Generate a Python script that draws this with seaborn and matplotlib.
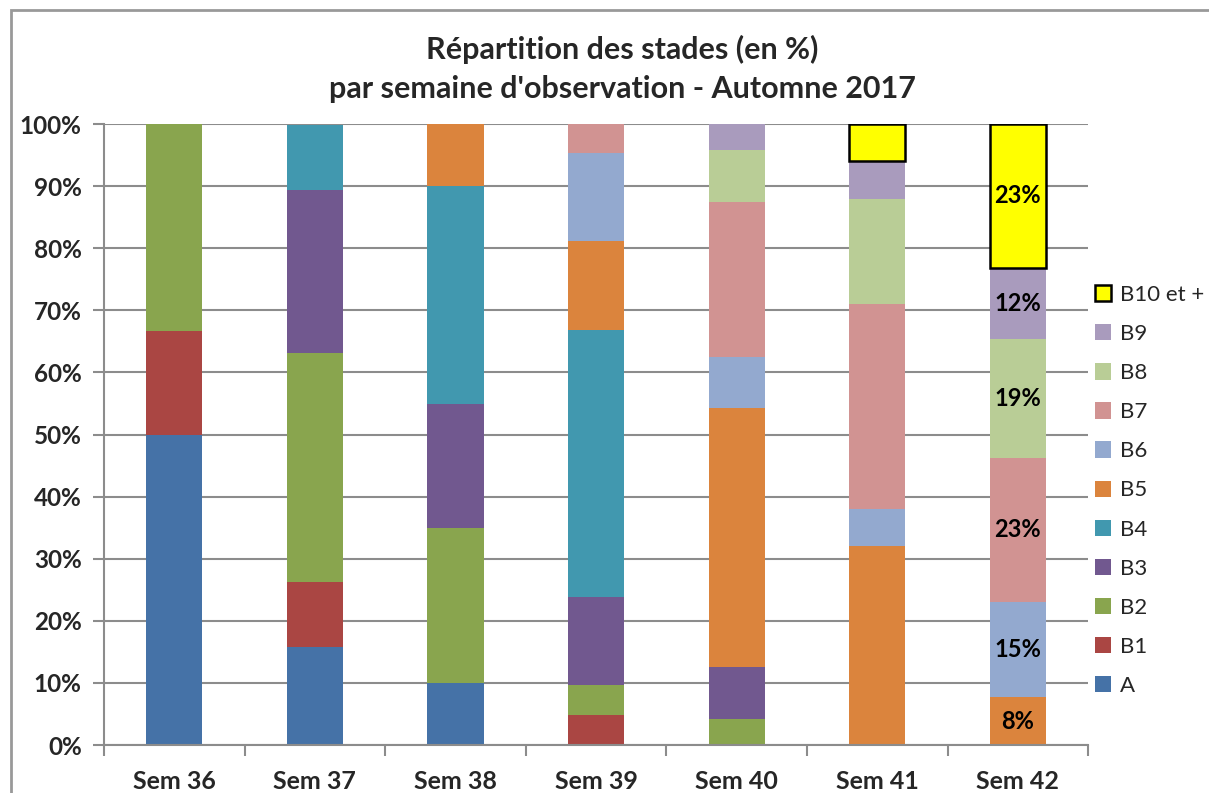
import pandas as pd
import seaborn as sns
import matplotlib.pyplot as plt
from matplotlib.patches import Rectangle


semaines = ["Sem 36", "Sem 37", "Sem 38", "Sem 39", "Sem 40", "Sem 41", "Sem 42"]
stades = ["A", "B1", "B2", "B3", "B4", "B5", "B6", "B7", "B8", "B9", "B10 et +"]

# pourcentages par stade (du bas vers le haut de la pile)
A = [50.0, 15.8, 10.0, 0, 0, 0, 0]
B1 = [16.7, 10.5, 0, 4.8, 0, 0, 0]
B2 = [33.3, 36.8, 25.0, 4.8, 4.2, 0, 0]
B3 = [0, 26.3, 20.0, 14.3, 8.3, 0, 0]
B4 = [0, 10.5, 35.0, 42.9, 0, 0, 0]
B5 = [0, 0, 10.0, 14.3, 41.7, 32.0, 7.7]
B6 = [0, 0, 0, 14.3, 8.3, 6.0, 15.4]
B7 = [0, 0, 0, 4.8, 25.0, 33.0, 23.1]
B8 = [0, 0, 0, 0, 8.3, 17.0, 19.2]
B9 = [0, 0, 0, 0, 4.2, 6.0, 11.5]
B10 = [0, 0, 0, 0, 0, 6.0, 23.1]

couleurs = ["#4572A7", "#AA4643", "#89A54E", "#71588F", "#4198AF", "#DB843D",
            "#93A9CF", "#D19392", "#B9CD96", "#A99BBD", "#FFFF00"]

df = pd.DataFrame(dict(zip(stades, [A, B1, B2, B3, B4, B5, B6, B7, B8, B9, B10])),
                  index=semaines)

sns.set_theme(style="white")
plt.rcParams["font.family"] = ["Lato", "DejaVu Sans"]

fig = plt.figure(figsize=(12.09, 7.93), dpi=100)
ax = fig.add_axes([0.086, 0.0605, 0.814, 0.783])

bas = pd.Series(0.0, index=semaines)
for stade, c in zip(stades, couleurs):
    sns.barplot(x=semaines, y=df[stade].values, bottom=bas.values, color=c,
                width=0.4, linewidth=0, saturation=1, ax=ax, label=stade)
    bas = bas + df[stade]

# bord noir pour "B10 et +"
for p in ax.containers[-1]:
    if p.get_height() > 0:
        p.set_edgecolor("black")
        p.set_linewidth(1.8)

# etiquettes pour Sem 42
for cont, stade in zip(ax.containers, stades):
    v = df[stade].values
    labels = ["" for _ in v]
    if v[-1] > 0 and stade not in ("A", "B1", "B2", "B3", "B4"):
        labels[-1] = f"{v[-1]:.0f}%"
    ax.bar_label(cont, labels=labels, label_type="center",
                 fontsize=17, fontweight="bold", color="black")

ax.set_ylim(0, 100)
ax.set_xlim(-0.5, 6.5)
ax.set_yticks(range(0, 101, 10))
ax.set_yticklabels([f"{t}%" for t in range(0, 101, 10)])
ax.yaxis.grid(True, color="#8c8c8c", linewidth=1.5)
ax.set_axisbelow(True)
for s in ["top", "right"]:
    ax.spines[s].set_visible(False)
for s in ["left", "bottom"]:
    ax.spines[s].set_color("#8c8c8c")
    ax.spines[s].set_linewidth(1.5)

ax.tick_params(axis="y", which="major", length=8, width=1.5, color="#8c8c8c",
               labelsize=17.5, pad=8, left=True)
ax.tick_params(axis="x", which="major", length=0, labelsize=18, pad=18)
ax.set_xticks([i + 0.5 for i in range(-1, 7)], minor=True)
ax.tick_params(axis="x", which="minor", length=8, width=1.5, color="#8c8c8c",
               bottom=True)
for t in ax.get_xticklabels() + ax.get_yticklabels():
    t.set_fontweight("bold")
ax.set_xlabel("")
ax.set_ylabel("")

handles, labs = ax.get_legend_handles_labels()
leg = ax.legend(handles[::-1], labs[::-1], loc="center left",
                bbox_to_anchor=(1.0, 0.41), frameon=False, fontsize=16,
                handlelength=0.75, handleheight=0.75, handletextpad=0.4,
                labelspacing=0.86, borderaxespad=0, borderpad=0.3)
leg.legend_handles[0].set_edgecolor("black")
leg.legend_handles[0].set_linewidth(1.8)

fig.text(0.515, 0.913, "Répartition des stades (en %)\npar semaine d'observation - Automne 2017",
         ha="center", va="center", fontsize=22, fontweight="bold", linespacing=1.45)

# cadre du graphique
fig.patches.append(Rectangle((0.009, -0.05), 1.05, 1.037, transform=fig.transFigure,
                             fill=False, edgecolor="#999999", linewidth=2))

fig.savefig("out.png", dpi=100)
